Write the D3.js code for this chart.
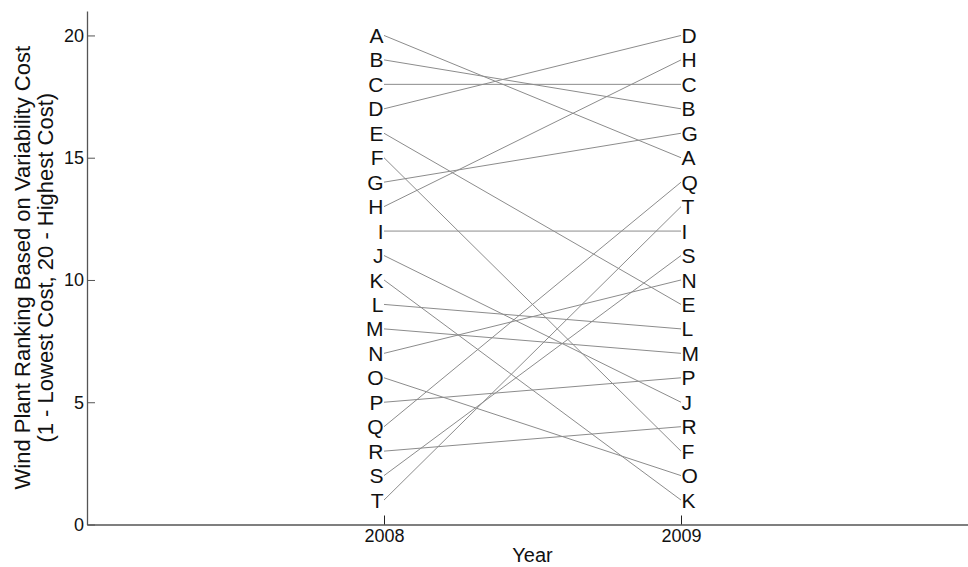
<!DOCTYPE html>
<html>
<head>
<meta charset="utf-8">
<script src="https://cdn.jsdelivr.net/npm/d3@7"></script>
<style>
  html, body { margin: 0; padding: 0; background: #fff; }
  svg { display: block; font-family: "Liberation Sans", Arial, sans-serif; }
</style>
</head>
<body>
<svg id="chart" width="968" height="567"></svg>
<script>
const years = [2008, 2009];
const plants = ["A","B","C","D","E","F","G","H","I","J","K","L","M","N","O","P","Q","R","S","T"];
const rank2008 = [20,19,18,17,16,15,14,13,12,11,10,9,8,7,6,5,4,3,2,1];
const rank2009 = [15,17,18,20,9,3,16,19,12,5,1,8,7,10,2,6,14,4,11,13];
const yTicks = [0,5,10,15,20];
const xLabel = "Year";
const yLabel = ["Wind Plant Ranking Based on Variability Cost", "(1 - Lowest Cost, 20 - Highest Cost)"];

const svg = d3.select("#chart");
const x = d3.scaleLinear().domain([2007, 2010]).range([87, 978]);
const y = d3.scaleLinear().domain([0, 21]).range([524.5, 11]);

const axisColor = "#555";

// slope lines
const data = plants.map((p, i) => ({ name: p, a: rank2008[i], b: rank2009[i] }));
svg.append("g").selectAll("line").data(data).join("line")
  .attr("x1", x(years[0])).attr("y1", d => y(d.a))
  .attr("x2", x(years[1])).attr("y2", d => y(d.b))
  .attr("stroke", "#8c8c8c").attr("stroke-width", 1);

// labels
svg.append("g").selectAll("text").data(data).join("text")
  .attr("x", x(years[0]) - 0.5).attr("y", d => y(d.a)).attr("dy", "0.36em")
  .attr("text-anchor", "end").attr("font-size", 21).attr("fill", "#111")
  .text(d => d.name);
svg.append("g").selectAll("text").data(data).join("text")
  .attr("x", x(years[1]) + 0.5).attr("y", d => y(d.b)).attr("dy", "0.36em")
  .attr("text-anchor", "start").attr("font-size", 21).attr("fill", "#111")
  .text(d => d.name);

// y axis
const yAxis = svg.append("g").attr("transform", `translate(${x.range()[0]},0)`)
  .call(d3.axisLeft(y).tickValues(yTicks).tickSizeInner(-8).tickSizeOuter(0).tickPadding(3).tickFormat(d3.format("d")));
yAxis.select(".domain").attr("stroke", axisColor).attr("stroke-width", 1.3);
yAxis.selectAll(".tick line").attr("stroke", axisColor);
yAxis.selectAll(".tick text").attr("font-size", 18).attr("fill", "#111").attr("font-family", "Liberation Sans, Arial, sans-serif");

// x axis
const xAxis = svg.append("g").attr("transform", `translate(0,${y(0)})`)
  .call(d3.axisBottom(x).tickValues(years).tickSizeInner(-9).tickSizeOuter(0).tickPadding(5).tickFormat(d3.format("d")));
xAxis.select(".domain").attr("stroke", axisColor).attr("stroke-width", 1.6);
xAxis.selectAll(".tick line").attr("stroke", "#222");
xAxis.selectAll(".tick text").attr("font-size", 18).attr("fill", "#111").attr("font-family", "Liberation Sans, Arial, sans-serif")
  .attr("dy", "0.71em").attr("y", 5);

// axis titles
svg.append("text").attr("x", (x.range()[0] + x.range()[1]) / 2).attr("y", 562)
  .attr("text-anchor", "middle").attr("font-size", 20).attr("fill", "#111").text(xLabel);

const yt = svg.append("text").attr("transform", `translate(30,${(y.range()[0] + y.range()[1]) / 2}) rotate(-90)`)
  .attr("text-anchor", "middle").attr("font-size", 22).attr("fill", "#111");
yt.selectAll("tspan").data(yLabel).join("tspan")
  .attr("x", 0).attr("dy", (d, i) => i === 0 ? 0 : 23).text(d => d);
</script>
</body>
</html>
